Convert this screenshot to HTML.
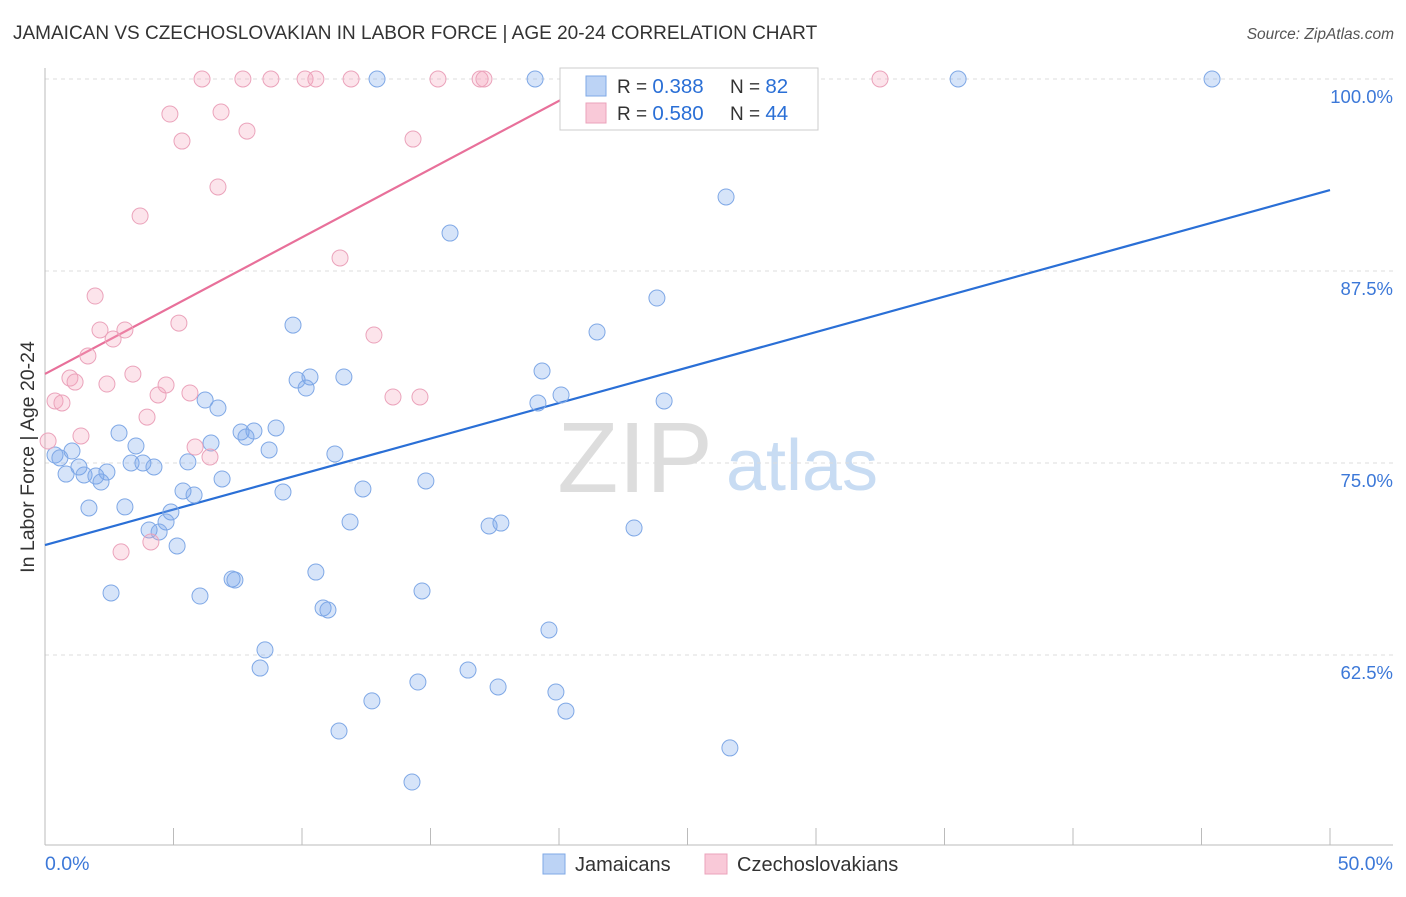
<!DOCTYPE html>
<html><head><meta charset="utf-8"><style>
body{margin:0;background:#fff;font-family:"Liberation Sans",sans-serif;}
svg text{font-family:"Liberation Sans",sans-serif;}
</style></head><body>
<svg id="chart" width="1406" height="892" xmlns="http://www.w3.org/2000/svg">
<text x="13" y="39" font-size="19" fill="#333">JAMAICAN VS CZECHOSLOVAKIAN IN LABOR FORCE | AGE 20-24 CORRELATION CHART</text>
<text x="1394" y="39" font-size="15.5" fill="#555" text-anchor="end" font-style="italic">Source: ZipAtlas.com</text>
<g><text x="635" y="492" font-size="100" fill="#ddd" font-family="Liberation Serif" text-anchor="middle">ZIP</text><text x="802" y="490" font-size="72" fill="#c8dcf3" text-anchor="middle">atlas</text></g>
<g id="grid"></g><g id="axes"></g><g id="lines"></g><g id="pts"></g>
<text transform="translate(34,457) rotate(-90)" font-size="19.5" fill="#333" text-anchor="middle">In Labor Force | Age 20-24</text>
<g>
<rect x="560" y="68" width="258" height="62" fill="#fff" stroke="#ccc"/>
<rect x="586" y="76" width="20" height="20" fill="#bcd3f5" stroke="#7fa8e6"/>
<rect x="586" y="103" width="20" height="20" fill="#f9c9d8" stroke="#eba3bb"/>
<text x="617" y="93" font-size="19" fill="#333">R = <tspan fill="#2a6fd6" font-size="20.5">0.388</tspan></text>
<text x="730" y="93" font-size="19" fill="#333">N = <tspan fill="#2a6fd6" font-size="20.5">82</tspan></text>
<text x="617" y="120" font-size="19" fill="#333">R = <tspan fill="#2a6fd6" font-size="20.5">0.580</tspan></text>
<text x="730" y="120" font-size="19" fill="#333">N = <tspan fill="#2a6fd6" font-size="20.5">44</tspan></text>
</g>
<g>
<rect x="543" y="854" width="22" height="20" fill="#bcd3f5" stroke="#7fa8e6"/>
<text x="575" y="871" font-size="20" fill="#333">Jamaicans</text>
<rect x="705" y="854" width="22" height="20" fill="#f9c9d8" stroke="#eba3bb"/>
<text x="737" y="871" font-size="20" fill="#333">Czechoslovakians</text>
</g>
</svg>
<script>
const yTicks=[100,87.5,75,62.5];
const xTickLabels=["0.0%","50.0%"];
const blueX=[12.92,19.07,27.24,28.6,35.53,45.41,26.5,15.76,23.81,21.48,9.65,19.34,9.81,10.31,10.16,11.63,20.08,19.18,24.09,6.23,6.73,2.88,3.54,6.46,7.63,8.13,7.82,8.99,8.72,11.28,14.82,12.37,9.26,1.05,0.39,0.58,1.32,0.82,1.52,1.98,2.18,2.41,3.35,3.81,4.24,5.56,6.89,5.37,5.8,1.71,3.11,4.9,4.71,4.05,4.44,5.14,11.87,17.28,17.74,22.92,2.57,6.03,7.28,7.39,10.54,10.82,11.01,14.67,19.61,8.56,8.37,16.46,14.51,17.63,12.72,19.88,20.27,11.44,26.65,14.28];
const blueY=[100,100,100,100,100,100,92.32,89.97,85.74,83.53,83.98,80.99,80.4,80.6,79.88,80.6,79.43,78.91,79.04,79.1,78.58,76.95,76.11,76.3,77.02,77.08,76.69,77.28,75.85,75.59,73.83,73.31,73.11,75.78,75.52,75.33,74.74,74.28,74.22,74.15,73.76,74.41,75,75,74.74,75.07,73.96,73.18,72.92,72.07,72.14,71.81,71.16,70.64,70.51,69.6,71.16,70.9,71.09,70.77,66.54,66.34,67.45,67.38,67.9,65.56,65.43,66.67,64.13,62.83,61.65,61.52,60.74,60.42,59.51,60.09,58.85,57.55,56.45,54.23];
const pinkX=[6.11,7.7,8.79,10.12,10.54,11.91,15.29,16.93,17.08,20.47,32.49,4.86,6.85,5.33,7.86,14.32,6.73,3.7,11.48,1.95,5.21,2.14,3.11,2.65,12.8,1.67,0.97,1.17,2.41,3.42,4.71,4.4,5.64,13.54,14.59,0.39,0.66,3.97,1.4,0.12,5.84,6.42,4.12,2.96];
const pinkY=[100,100,100,100,100,100,100,100,100,100,100,97.72,97.85,95.96,96.61,96.09,92.97,91.08,88.35,85.87,84.11,83.66,83.66,83.07,83.33,81.97,80.53,80.27,80.14,80.79,80.08,79.43,79.56,79.3,79.3,79.04,78.91,77.99,76.76,76.43,76.04,75.39,69.86,69.21];
const blueLine=[69.66,92.77];
const pinkLine=[80.8,100,21.6];
const NS="http://www.w3.org/2000/svg";
const sx=v=>45+v*25.7, sy=v=>79+(100-v)*15.36;
function mk(tag,attrs,parent){const e=document.createElementNS(NS,tag);for(const k in attrs)e.setAttribute(k,attrs[k]);document.getElementById(parent).appendChild(e);return e;}
yTicks.forEach(t=>{
 const l=mk('line',{x1:45,x2:1393,y1:sy(t),y2:sy(t),stroke:'#ddd','stroke-dasharray':'4,4'},'grid');
 
 
 const tx=mk('text',{x:1393,y:sy(t)+24,'font-size':18.5,fill:'#3c78d8','text-anchor':'end'},'grid');
 tx.textContent=t.toFixed(1)+'%';
 
 
});
mk('line',{x1:45,x2:45,y1:68,y2:845,stroke:'#bbb'},'axes');
mk('line',{x1:45,x2:1393,y1:845,y2:845,stroke:'#bbb'},'axes');
for(let i=0;i<=10;i++){const t=mk('line',{x1:sx(i*5),x2:sx(i*5),y1:828,y2:845,stroke:'#bbb'},'axes');
 
 }
const xl0=mk('text',{x:45,y:870,'font-size':19.5,fill:'#3c78d8'},'axes');xl0.textContent=xTickLabels[0];


const xl1=mk('text',{x:1393,y:870,'font-size':19.5,fill:'#3c78d8','text-anchor':'end'},'axes');xl1.textContent=xTickLabels[1];


blueX.forEach((x,i)=>{const c=mk('circle',{cx:sx(x),cy:sy(blueY[i]),r:8,fill:'rgba(120,165,235,0.3)',stroke:'#7fa8e6','stroke-width':1},'pts');
 
 });
pinkX.forEach((x,i)=>{const c=mk('circle',{cx:sx(x),cy:sy(pinkY[i]),r:8,fill:'rgba(245,165,190,0.3)',stroke:'#eba3bb','stroke-width':1},'pts');
 
 });
const bl=mk('line',{x1:sx(0),y1:sy(blueLine[0]),x2:sx(50),y2:sy(blueLine[1]),stroke:'#2a6fd6','stroke-width':2.2},'lines');


const pl=mk('line',{x1:sx(0),y1:sy(pinkLine[0]),x2:sx(pinkLine[2]),y2:sy(pinkLine[1]),stroke:'#e8709a','stroke-width':2.2},'lines');


</script>
</body></html>
